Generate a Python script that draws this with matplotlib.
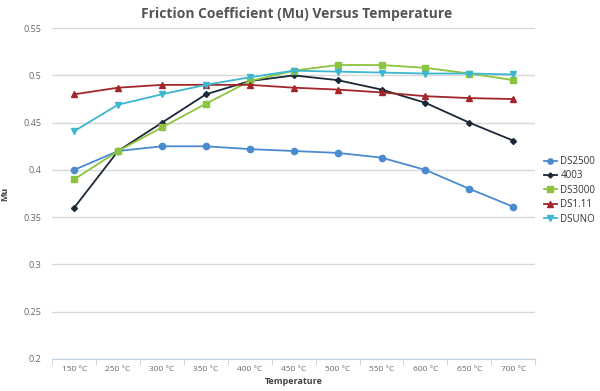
import matplotlib
matplotlib.use("Agg")
from matplotlib import pyplot as plt
import numpy as np

plt.rcParams['font.family'] = ['Open Sans', 'DejaVu Sans']

# Data
temperatures = ['150 °C', '250 °C', '300 °C', '350 °C', '400 °C', '450 °C',
                '500 °C', '550 °C', '600 °C', '650 °C', '700 °C']
ds2500 = [0.40, 0.42, 0.425, 0.425, 0.422, 0.42, 0.418, 0.413, 0.40, 0.38, 0.361]
s4003 = [0.36, 0.42, 0.45, 0.48, 0.494, 0.50, 0.495, 0.485, 0.471, 0.45, 0.431]
ds3000 = [0.39, 0.42, 0.445, 0.47, 0.494, 0.505, 0.511, 0.511, 0.508, 0.502, 0.495]
ds111 = [0.48, 0.487, 0.49, 0.49, 0.49, 0.487, 0.485, 0.482, 0.478, 0.476, 0.475]
dsuno = [0.441, 0.469, 0.48, 0.49, 0.498, 0.505, 0.504, 0.503, 0.502, 0.502, 0.501]

series = [
    ('DS2500', ds2500, '#4a8bd0', 'o', 4.5),
    ('4003', s4003, '#1b2838', 'D', 3),
    ('DS3000', ds3000, '#8cc43f', 's', 4.5),
    ('DS1.11', ds111, '#a3262a', '^', 5),
    ('DSUNO', dsuno, '#3db6cf', 'v', 5),
]

fig = plt.figure(figsize=(6, 3.91), dpi=100)
ax = fig.add_axes([0.087, 0.082, 0.805, 0.846])

x = np.arange(len(temperatures))
for name, vals, color, marker, ms in series:
    ax.plot(x, vals, color=color, marker=marker, markersize=ms, linewidth=1.3, label=name)

ax.set_xlim(-0.5, len(temperatures) - 0.5)
ax.set_ylim(0.2, 0.55)
ax.set_yticks(np.arange(0.2, 0.551, 0.05))
ax.set_yticklabels(['0.2', '0.25', '0.3', '0.35', '0.4', '0.45', '0.5', '0.55'])
ax.set_xticks(x)
ax.set_xticklabels(temperatures)
ax.set_xticks(np.arange(-0.5, len(temperatures), 1), minor=True)

ax.grid(axis='y', color='#d8d8d8', linewidth=1)
ax.set_axisbelow(True)
for side in ['top', 'right', 'left']:
    ax.spines[side].set_visible(False)
ax.spines['bottom'].set_color('#c0d0e0')

ax.tick_params(axis='x', which='major', length=0, labelsize=6, colors='#666666', pad=5)
ax.tick_params(axis='x', which='minor', length=4, color='#c0d0e0')
ax.tick_params(axis='y', length=0, labelsize=6.5, colors='#666666', pad=8)

ax.set_xlabel('Temperature', fontsize=6.5, fontweight='bold', color='#444444', labelpad=3)
ax.set_ylabel('Mu', fontsize=6.5, fontweight='bold', color='#444444', labelpad=10)
fig.text(0.495, 0.965, 'Friction Coefficient (Mu) Versus Temperature', ha='center', va='center',
         fontsize=10, fontweight='bold', color='#555555')

ax.legend(loc='center left', bbox_to_anchor=(1.0, 0.51), frameon=False, fontsize=7,
          handlelength=1.3, labelspacing=0.35, handletextpad=0.4, borderaxespad=0.5,
          labelcolor='#333333', markerscale=0.85)

fig.savefig('out.png', dpi=100)
